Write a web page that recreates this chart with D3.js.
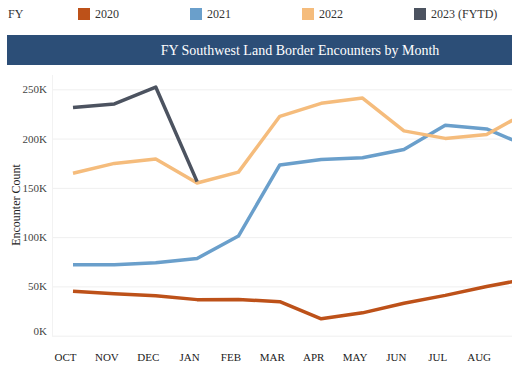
<!DOCTYPE html>
<html lang="en">
  <head>
    <meta charset="utf-8">
    <title>FY Southwest Land Border Encounters</title>
    <script src="https://cdn.jsdelivr.net/npm/d3@7"></script>
    <style>
      body { margin: 0; background: #fff; }
      svg text { font-family: "Liberation Serif", "DejaVu Serif", serif; }
      .grid line { stroke: #efefef; }
      .grid path { stroke: none; }
      .y.axis text { fill: #444; font-size: 11px; }
      .x.axis text { fill: #222; font-size: 11px; }
    </style>
  </head>
  <body>
    <script>

    //Size
    var w = 512;
    var h = 375;

    //Data
    var months = ["OCT", "NOV", "DEC", "JAN", "FEB", "MAR", "APR", "MAY", "JUN", "JUL", "AUG", "SEP"];
    var years = ["2020", "2021", "2022", "2023 (FYTD)"];
    var fy2020 = [45.1, 42.6, 40.6, 36.6, 36.7, 34.5, 17.1, 23.2, 33.0, 40.9, 50.0, 57.7];
    var fy2021 = [71.9, 72.1, 74.0, 78.4, 101.1, 173.3, 178.8, 180.6, 189.0, 213.6, 209.8, 192.0];
    var fy2022 = [164.8, 174.8, 179.3, 154.9, 166.0, 222.6, 235.8, 241.1, 207.8, 200.2, 204.1, 227.5];
    var fy2023 = [231.5, 235.2, 252.3, 156.3];
    var yTicks = [0, 50, 100, 150, 200, 250];
    var colors = ["#bd5119", "#6a9fcb", "#f5bc7c", "#4c5360"];

    var series = [fy2020, fy2021, fy2022, fy2023];

    //Scales
    var xScale = d3.scalePoint()
      .domain(months)
      .range([73, 528]);

    var yScale = d3.scaleLinear()
      .domain([0, 250])
      .range([335.7, 89.3]);

    var svg = d3.select("body")
      .append("svg")
      .attr("width", w)
      .attr("height", h);

    //Legend
    svg.append("text")
      .attr("x", 8)
      .attr("y", 18)
      .attr("font-size", 12)
      .attr("fill", "#333")
      .text("FY");

    var legendX = [78, 190, 302, 414];
    var legend = svg.selectAll(".legend")
      .data(years)
      .enter()
      .append("g")
      .attr("class", "legend")
      .attr("transform", function(d, i) { return "translate(" + legendX[i] + ",8)"; });

    legend.append("rect")
      .attr("width", 12)
      .attr("height", 12)
      .attr("fill", function(d, i) { return colors[i]; });

    legend.append("text")
      .attr("x", 17)
      .attr("y", 10)
      .attr("font-size", 12)
      .attr("fill", "#333")
      .text(function(d) { return d; });

    //Title bar
    svg.append("rect")
      .attr("x", 7)
      .attr("y", 35)
      .attr("width", w - 7)
      .attr("height", 30)
      .attr("fill", "#2c4e77");

    svg.append("text")
      .attr("x", 300)
      .attr("y", 55)
      .attr("text-anchor", "middle")
      .attr("font-size", 14)
      .attr("fill", "#fff")
      .text("FY Southwest Land Border Encounters by Month");

    //Gridlines
    svg.append("g")
      .attr("class", "grid")
      .attr("transform", "translate(52,0)")
      .call(d3.axisRight(yScale).tickValues(yTicks).tickSize(w - 52).tickFormat(""));

    svg.append("line")
      .attr("x1", 52.5)
      .attr("x2", 52.5)
      .attr("y1", 75)
      .attr("y2", 336)
      .attr("stroke", "#f2f2f2");

    //Y axis labels
    var yAxis = svg.append("g")
      .attr("class", "y axis")
      .attr("transform", "translate(47,0)")
      .call(d3.axisLeft(yScale).tickValues(yTicks).tickSize(0).tickFormat(function(d) { return d + "K"; }));
    yAxis.select(".domain").remove();
    yAxis.selectAll("text").attr("x", 0);
    //bottom label sits a little above its gridline
    yAxis.selectAll(".tick")
      .filter(function(d) { return d === 0; })
      .select("text")
      .attr("y", -5);

    //X axis labels (SEP falls outside the picture)
    var xAxis = svg.append("g")
      .attr("class", "x axis")
      .attr("transform", "translate(-8,350)")
      .call(d3.axisBottom(xScale).tickValues(months.slice(0, 11)).tickSize(0));
    xAxis.select(".domain").remove();

    //Y axis title
    svg.append("text")
      .attr("transform", "translate(20,205) rotate(-90)")
      .attr("text-anchor", "middle")
      .attr("font-size", 12)
      .attr("fill", "#222")
      .text("Encounter Count");

    //Lines
    var line = d3.line()
      .x(function(d, i) { return xScale(months[i]); })
      .y(function(d) { return yScale(d); });

    svg.selectAll(".series")
      .data(series)
      .enter()
      .append("path")
      .attr("class", "series")
      .attr("d", line)
      .attr("fill", "none")
      .attr("stroke", function(d, i) { return colors[i]; })
      .attr("stroke-width", 3.5)
      .attr("stroke-linejoin", "round");

    </script>
  </body>
</html>
